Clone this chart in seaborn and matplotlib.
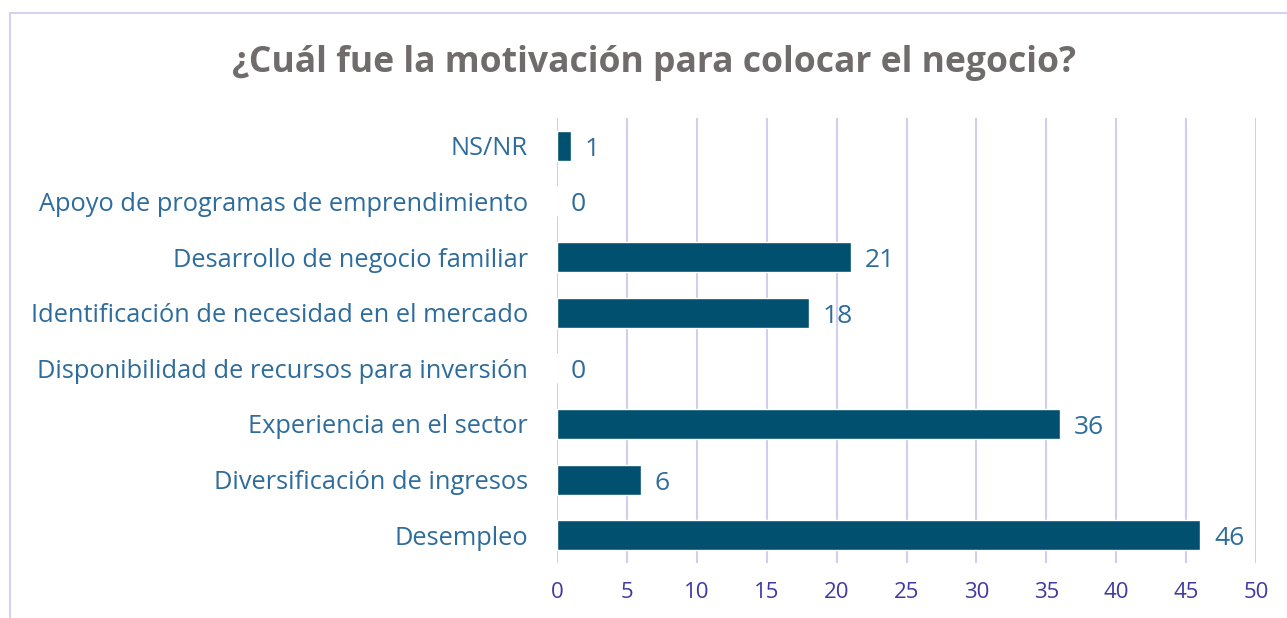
import matplotlib
matplotlib.use("Agg")
import matplotlib.pyplot as plt
import seaborn as sns
import pandas as pd
from matplotlib.patches import Rectangle

categories = [
    "NS/NR",
    "Apoyo de programas de emprendimiento",
    "Desarrollo de negocio familiar",
    "Identificación de necesidad en el mercado",
    "Disponibilidad de recursos para inversión",
    "Experiencia en el sector",
    "Diversificación de ingresos",
    "Desempleo",
]
values = [1, 0, 21, 18, 0, 36, 6, 46]
x_ticks = [0, 5, 10, 15, 20, 25, 30, 35, 40, 45, 50]
title = "¿Cuál fue la motivación para colocar el negocio?"

df = pd.DataFrame({"cat": categories, "val": values})

sns.set_theme(style="white")
plt.rcParams["font.family"] = ["Open Sans", "DejaVu Sans"]

fig = plt.figure(figsize=(12.87, 6.18), dpi=100)
ax = fig.add_axes([557 / 1287, 55 / 618, (1256 - 557) / 1287, (563 - 118) / 618])

bar_color = "#02506F"
label_color = "#2D6C9C"
tick_color = "#3F3AA0"
grid_color = "#D2CDEE"

sns.barplot(data=df, x="val", y="cat", orient="h", color=bar_color,
            saturation=1, width=0.54, ax=ax, zorder=3)

ax.set_xlim(0, 50)
ax.set_ylim(len(categories) - 0.5, -0.5)
ax.set_xticks(x_ticks)
ax.set_xticklabels([str(t) for t in x_ticks])
ax.set_xlabel("")
ax.set_ylabel("")
ax.grid(axis="x", color=grid_color, linewidth=1.5, zorder=0)
ax.grid(axis="y", visible=False)
for s in ax.spines.values():
    s.set_visible(False)
ax.tick_params(axis="x", colors=tick_color, labelsize=16, length=0, pad=14)
ax.tick_params(axis="y", colors=label_color, labelsize=18.3, length=0, pad=21)
for lbl in ax.get_yticklabels():
    lbl.set_color(label_color)

for i, v in enumerate(values):
    ax.annotate(str(v), xy=(v, i), xytext=(10, -2.5), textcoords="offset points",
                ha="left", va="center", fontsize=19, color=label_color)

fig.text(654 / 1287, 1 - 63 / 618, title, ha="center", va="center",
         fontsize=25.6, fontweight="bold", color="#716C6C")

fig.patches.append(Rectangle((10 / 1287, -0.2), 2, 1.2 - 13 / 618,
                             transform=fig.transFigure, fill=False,
                             edgecolor="#D5D2F0", linewidth=1.5))

fig.savefig("out.png", dpi=100)
